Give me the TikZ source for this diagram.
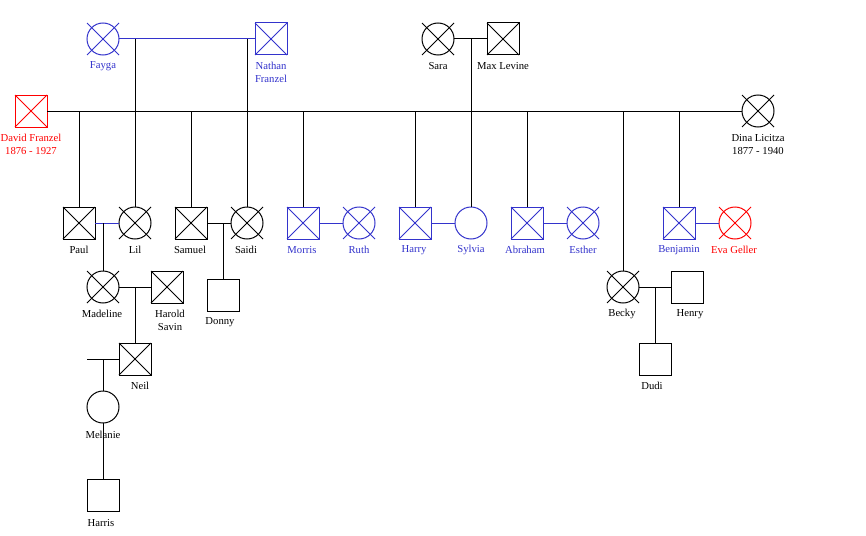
\documentclass[tikz,border=0pt]{standalone}
\usepackage{fontspec}
\setmainfont{Liberation Serif}
\definecolor{pblue}{RGB}{51,51,204}
\definecolor{pred}{RGB}{255,0,0}
\begin{document}
\begin{tikzpicture}[x=0.75pt,y=-0.75pt,line width=0.75pt,
  male/.style={draw,rectangle,minimum size=24pt,inner sep=0pt,outer sep=0pt},
  female/.style={draw,circle,minimum size=24pt,inner sep=0pt,outer sep=0pt},
  lbl/.style={font=\fontsize{8}{9.75}\selectfont,align=center,inner sep=0pt}]
\useasboundingbox (0,0) rectangle (866,535);
\fill[white] (0,0) rectangle (866,535);
% generation 1
\node[female,pblue] (fayga) at (103,39) {};
\node[male,pblue] (nathan) at (271,39) {};
\node[female] (sara) at (438,39) {};
\node[male] (max) at (503,39) {};
\node[male,pred] (david) at (31,111) {};
\node[female] (dina) at (758,111) {};
% generation 2
\node[male] (paul) at (79,223) {};
\node[female] (lil) at (135,223) {};
\node[male] (samuel) at (191,223) {};
\node[female] (saidi) at (247,223) {};
\node[male,pblue] (morris) at (303,223) {};
\node[female,pblue] (ruth) at (359,223) {};
\node[male,pblue] (harry) at (415,223) {};
\node[female,pblue] (sylvia) at (471,223) {};
\node[male,pblue] (abraham) at (527,223) {};
\node[female,pblue] (esther) at (583,223) {};
\node[male,pblue] (benjamin) at (679,223) {};
\node[female,pred] (eva) at (735,223) {};
% generation 3
\node[female] (madeline) at (103,287) {};
\node[male] (harold) at (167,287) {};
\node[male] (donny) at (223,295) {};
\node[female] (becky) at (623,287) {};
\node[male] (henry) at (687,287) {};
\node[male] (neil) at (135,359) {};
\node[male] (dudi) at (655,359) {};
\node[female] (melanie) at (103,407) {};
\node[male] (harris) at (103,495) {};
% crosses (deceased)
\foreach \n in {sara,max,dina,paul,lil,samuel,saidi,madeline,harold,becky,neil}
  \draw (\n) ++(-16,-16) -- ++(32,32) (\n) ++(16,-16) -- ++(-32,32);
\foreach \n in {fayga,nathan,morris,ruth,harry,abraham,esther,benjamin}
  \draw[pblue] (\n) ++(-16,-16) -- ++(32,32) (\n) ++(16,-16) -- ++(-32,32);
\foreach \n in {david,eva}
  \draw[pred] (\n) ++(-16,-16) -- ++(32,32) (\n) ++(16,-16) -- ++(-32,32);
% labels
\node[lbl,pblue] (faygaL) at (103,66) {Fayga};
\node[lbl,pblue] (nathanL) at (271,72.5) {Nathan\\Franzel};
\node[lbl] (saraL) at (438,66) {Sara};
\node[lbl] (maxL) at (503,66) {Max Levine};
\node[lbl,pred] (davidL) at (31,144.5) {David Franzel\\1876 - 1927};
\node[lbl] (dinaL) at (758,144.5) {Dina Licitza\\1877 - 1940};
\node[lbl] (paulL) at (79,250) {Paul};
\node[lbl] (lilL) at (135,250) {Lil};
\node[lbl] (samuelL) at (190,250) {Samuel};
\node[lbl] (saidiL) at (246,250) {Saidi};
\node[lbl,pblue] (morrisL) at (302,250) {Morris};
\node[lbl,pblue] (ruthL) at (359,250) {Ruth};
\node[lbl,pblue] (harryL) at (414,250) {Harry};
\node[lbl,pblue] (sylviaL) at (471,250) {Sylvia};
\node[lbl,pblue] (abrahamL) at (525,250) {Abraham};
\node[lbl,pblue] (estherL) at (583,250) {Esther};
\node[lbl,pblue] (benjaminL) at (679,250) {Benjamin};
\node[lbl,pred] (evaL) at (734,250) {Eva Geller};
\node[lbl] (madelineL) at (102,314) {Madeline};
\node[lbl] (haroldL) at (170,320.5) {Harold\\Savin};
\node[lbl] (donnyL) at (220,322) {Donny};
\node[lbl] (beckyL) at (622,314) {Becky};
\node[lbl] (henryL) at (690,314) {Henry};
\node[lbl] (neilL) at (140,386) {Neil};
\node[lbl] (dudiL) at (652,386) {Dudi};
\node[lbl] (melanieL) at (103,435) {Melanie};
\node[lbl] (harrisL) at (101,523) {Harris};
% junction points
\coordinate (jFN1) at (135,39);
\coordinate (jFN2) at (247,39);
\coordinate (jSM) at (471,39);
\foreach \x/\n in {79/paul,191/samuel,303/morris,415/harry,527/abraham,623/becky,679/benjamin}
  \coordinate (jD\n) at (\x,111);
\coordinate (jPL) at (103,223);
\coordinate (jSS) at (223,223);
\coordinate (jMH) at (135,287);
\coordinate (jBH) at (655,287);
\coordinate (jNs) at (87,359);
\coordinate (jN) at (103,359);
% marriage lines
\draw[pblue] (fayga) -- (nathan);
\draw (sara) -- (max);
\draw (david) -- (dina);
\draw[pblue] (paul) -- (lil);
\draw (samuel) -- (saidi);
\draw[pblue] (morris) -- (ruth);
\draw[pblue] (harry) -- (sylvia);
\draw[pblue] (abraham) -- (esther);
\draw[pblue] (benjamin) -- (eva);
\draw (madeline) -- (harold);
\draw (becky) -- (henry);
\draw (jNs) -- (neil);
% descent lines
\draw (jFN1) -- (lil);
\draw (jFN2) -- (saidi);
\draw (jSM) -- (sylvia);
\foreach \n in {paul,samuel,morris,harry,abraham,becky,benjamin}
  \draw (jD\n) -- (\n);
\draw (jPL) -- (madeline);
\draw (jSS) -- (donny);
\draw (jMH) -- (neil);
\draw (jBH) -- (dudi);
\draw (jN) -- (melanie);
\draw (melanie) -- (harris);
\end{tikzpicture}
\end{document}
